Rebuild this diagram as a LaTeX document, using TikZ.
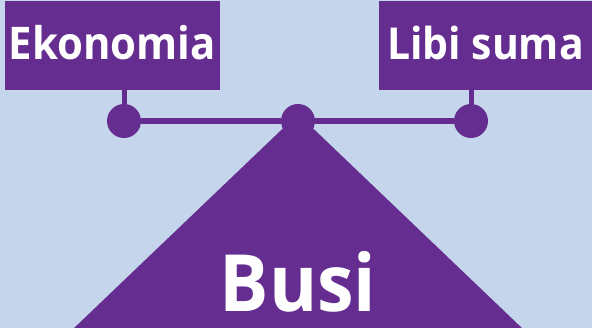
\documentclass[tikz,border=0pt]{standalone}
\usepackage{fontspec}
\setmainfont{Open Sans}[UprightFont=* Bold, FakeStretch=0.93]
\definecolor{bg}{HTML}{C5D5EB}
\definecolor{purp}{HTML}{652D90}
\begin{document}
\begin{tikzpicture}[x=1pt,y=-1pt,
  lbl/.style={fill=purp,text=white,inner sep=0pt,outer sep=0pt,minimum height=89pt,anchor=north west},
  dot/.style={circle,fill=purp,minimum size=34pt,inner sep=0pt},
  txt/.style={text=white,inner sep=0pt,anchor=base},
  link/.style={draw=purp,line width=6pt}]
\fill[bg] (0,0) rectangle (592,328);
\useasboundingbox (0,0) rectangle (592,328);
\node[lbl,minimum width=215pt] (ek) at (5,1) {};
\node[lbl,minimum width=213pt] (ls) at (379,1) {};
\node[txt,font=\fontsize{45}{45}\selectfont] (ekt) at (112.5,60) {Ekonomia};
\node[txt,font=\fontsize{44}{44}\selectfont] (lst) at (485.5,60) {Libi suma};
\node[dot] (dl) at (124,121) {};
\node[dot] (dm) at (298,121) {};
\node[dot] (dr) at (471,121) {};
\draw[draw=purp,line width=5pt] (ek.south -| dl) -- (dl);
\draw[draw=purp,line width=5pt] (ls.south -| dr) -- (dr);
\draw[link] (dl) -- (dm) -- (dr);
\fill[purp] (298,114) -- (524,330) -- (72,330) -- cycle;
\node[txt,font=\fontsize{79}{79}\selectfont] (busi) at (298,312) {Busi};
\end{tikzpicture}
\end{document}
